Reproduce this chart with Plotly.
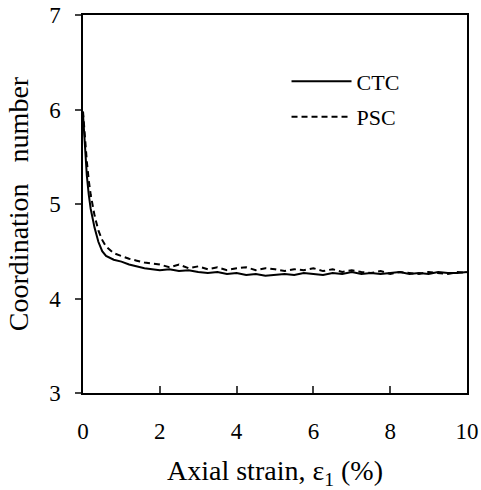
import plotly.graph_objects as go

# strain (%) and coordination number
ctc_x = [0, 0.05, 0.1, 0.15, 0.2, 0.3, 0.4, 0.5, 0.6, 0.8, 1.0, 1.2, 1.4, 1.6, 1.8,
         2.0, 2.25, 2.5, 2.75, 3.0, 3.25, 3.5, 3.75, 4.0, 4.25, 4.5, 4.75, 5.0, 5.25,
         5.5, 5.75, 6.0, 6.25, 6.5, 6.75, 7.0, 7.25, 7.5, 7.75, 8.0, 8.25, 8.5, 8.75,
         9.0, 9.25, 9.5, 9.75, 10.0]
ctc_y = [5.95, 5.6, 5.3, 5.1, 4.95, 4.75, 4.6, 4.5, 4.45, 4.41, 4.39, 4.36, 4.34, 4.32, 4.31,
         4.30, 4.31, 4.29, 4.30, 4.28, 4.27, 4.28, 4.26, 4.27, 4.25, 4.26, 4.24, 4.25, 4.26,
         4.25, 4.27, 4.26, 4.25, 4.27, 4.26, 4.28, 4.26, 4.27, 4.26, 4.27, 4.28, 4.26, 4.27,
         4.26, 4.28, 4.27, 4.27, 4.28]

psc_x = ctc_x
psc_y = [5.98, 5.7, 5.45, 5.25, 5.1, 4.88, 4.72, 4.62, 4.55, 4.48, 4.45, 4.42, 4.40, 4.38, 4.37,
         4.36, 4.33, 4.36, 4.32, 4.34, 4.31, 4.33, 4.30, 4.32, 4.33, 4.30, 4.32, 4.31, 4.29,
         4.31, 4.30, 4.32, 4.29, 4.31, 4.28, 4.30, 4.28, 4.27, 4.29, 4.26, 4.28, 4.27, 4.26,
         4.28, 4.27, 4.26, 4.28, 4.27]

x_ticks = [0, 2, 4, 6, 8, 10]
y_ticks = [3, 4, 5, 6, 7]

font = "Liberation Serif, Times New Roman, serif"

fig = go.Figure()
fig.add_trace(go.Scatter(x=ctc_x, y=ctc_y, mode="lines", name="CTC", legendgroup="a",
                         line=dict(color="black", width=2)))
fig.add_trace(go.Scatter(x=psc_x, y=psc_y, mode="lines", name="PSC", legendgroup="b",
                         line=dict(color="black", width=2, dash="6px,4px")))

fig.update_layout(
    width=481, height=490,
    margin=dict(l=83, r=14, t=15, b=97),
    paper_bgcolor="white", plot_bgcolor="white",
    font=dict(family=font, size=23, color="black"),
    showlegend=True,
    legend=dict(x=0.53, y=0.88, xanchor="left", yanchor="top",
                bgcolor="rgba(0,0,0,0)", itemwidth=60,
                traceorder="grouped", tracegroupgap=4,
                font=dict(family=font, size=22)),
)
fig.update_xaxes(range=[0, 10], tickvals=x_ticks, ticks="inside", ticklen=7,
                 tickwidth=1.5, showline=True, linewidth=1.5, linecolor="black",
                 mirror=True, showgrid=False, zeroline=False, automargin=False,
                 ticklabeloverflow="allow", ticklabelstandoff=17,
                 title=dict(text="Axial strain, ε<sub>1</sub> (%)", standoff=25))
fig.update_yaxes(range=[3, 7], tickvals=y_ticks, ticks="outside", ticklen=6,
                 tickwidth=1.5, showline=True, linewidth=1.5, linecolor="black",
                 mirror=True, showgrid=False, zeroline=False, automargin=False,
                 ticklabeloverflow="allow", ticklabelstandoff=10,
                 title=dict(text="Coordination   number", standoff=12))

# page body margin would otherwise shift the 481x490 figure out of the window
fig.write_html("out.html", config={"displayModeBar": False},
               post_script="document.body.style.margin='0';")
